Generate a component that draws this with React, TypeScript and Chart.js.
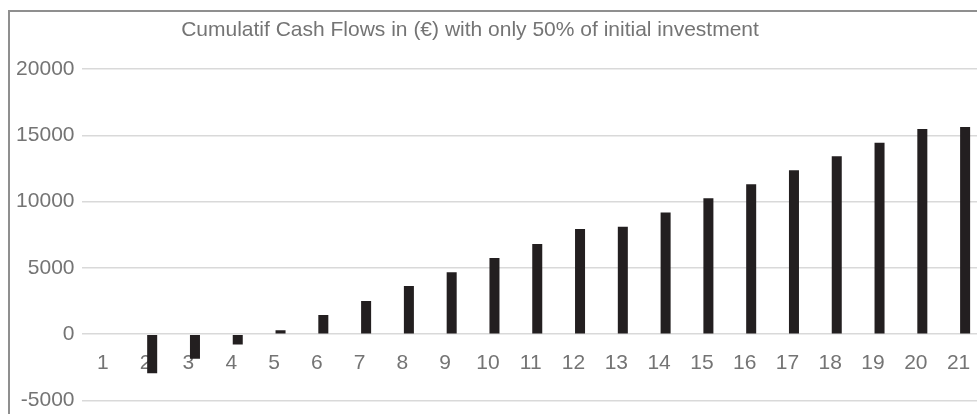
import React, { useEffect, useRef } from "react";
import { Chart, registerables } from "chart.js";

Chart.register(...registerables);

const years = ["1","2","3","4","5","6","7","8","9","10","11","12","13","14","15","16","17","18","19","20","21"];
// Excel-style clustered layout: an empty first series occupies the left slot
const emptySeries: (number | null)[] = [null,null,null,null,null,null,null,null,null,null,null,null,null,null,null,null,null,null,null,null,null];
const cumulativeCashFlows = [0,-2950,-1850,-780,300,1440,2500,3630,4680,5740,6800,7930,8100,9190,10250,11310,12370,13430,14450,15480,15630];
const yTicks = [-5000, 0, 5000, 10000, 15000, 20000];
const titleText = "Cumulatif Cash Flows in (€) with only 50% of initial investment";

const FONT = "'Liberation Sans', Arial, sans-serif";
const TEXT = "#747474";

export default function App() {
  const ref = useRef<HTMLCanvasElement | null>(null);
  useEffect(() => {
    if (!ref.current) return;
    const chart = new Chart(ref.current, {
      type: "bar",
      data: {
        labels: years,
        datasets: [
          { label: "", data: emptySeries, backgroundColor: "#231f20" },
          { label: "Cumulative cash flows", data: cumulativeCashFlows, backgroundColor: "#231f20" },
        ],
      },
      options: {
        responsive: false,
        animation: false,
        devicePixelRatio: 1,
        categoryPercentage: 0.608,
        barPercentage: 0.77,
        layout: { padding: { left: 0, right: 2, top: 0, bottom: 7 } },
        plugins: {
          legend: { display: false },
          tooltip: { enabled: false },
          title: {
            display: true,
            text: titleText,
            color: TEXT,
            font: { family: FONT, size: 21, weight: "normal" },
            padding: { top: 17.5, bottom: 26.5 },
          },
        },
        scales: {
          x: {
            position: { y: 0 } as any,
            grid: { display: false },
            border: { display: false },
            ticks: {
              color: TEXT,
              font: { family: FONT, size: 21 },
              padding: 8.5,
              maxRotation: 0,
              autoSkip: false,
            },
          },
          y: {
            min: -5000,
            max: 20000,
            afterBuildTicks: (scale: any) => {
              scale.ticks = yTicks.map((v) => ({ value: v }));
            },
            afterFit: (scale: any) => {
              scale.width = 121.5;
            },
            grid: { color: "#d9d9d9", lineWidth: 1.5, drawTicks: false },
            border: { display: false },
            ticks: {
              color: TEXT,
              font: { family: FONT, size: 21 },
              padding: 7,
              callback: (v: any) => String(v),
            },
          },
        },
      },
    });
    return () => chart.destroy();
  }, []);

  return (
    <div style={{ position: "fixed", left: 0, top: 0, width: 977, height: 414, overflow: "hidden", background: "#fff" }}>
      <div
        style={{
          position: "absolute",
          left: 8,
          top: 10,
          width: 1100,
          height: 500,
          border: "2px solid #8f8f8f",
          boxSizing: "border-box",
        }}
      />
      <canvas
        ref={ref}
        width={1022}
        height={420}
        style={{ position: "absolute", left: -40, top: 0, width: 1022, height: 420 }}
      />
    </div>
  );
}
